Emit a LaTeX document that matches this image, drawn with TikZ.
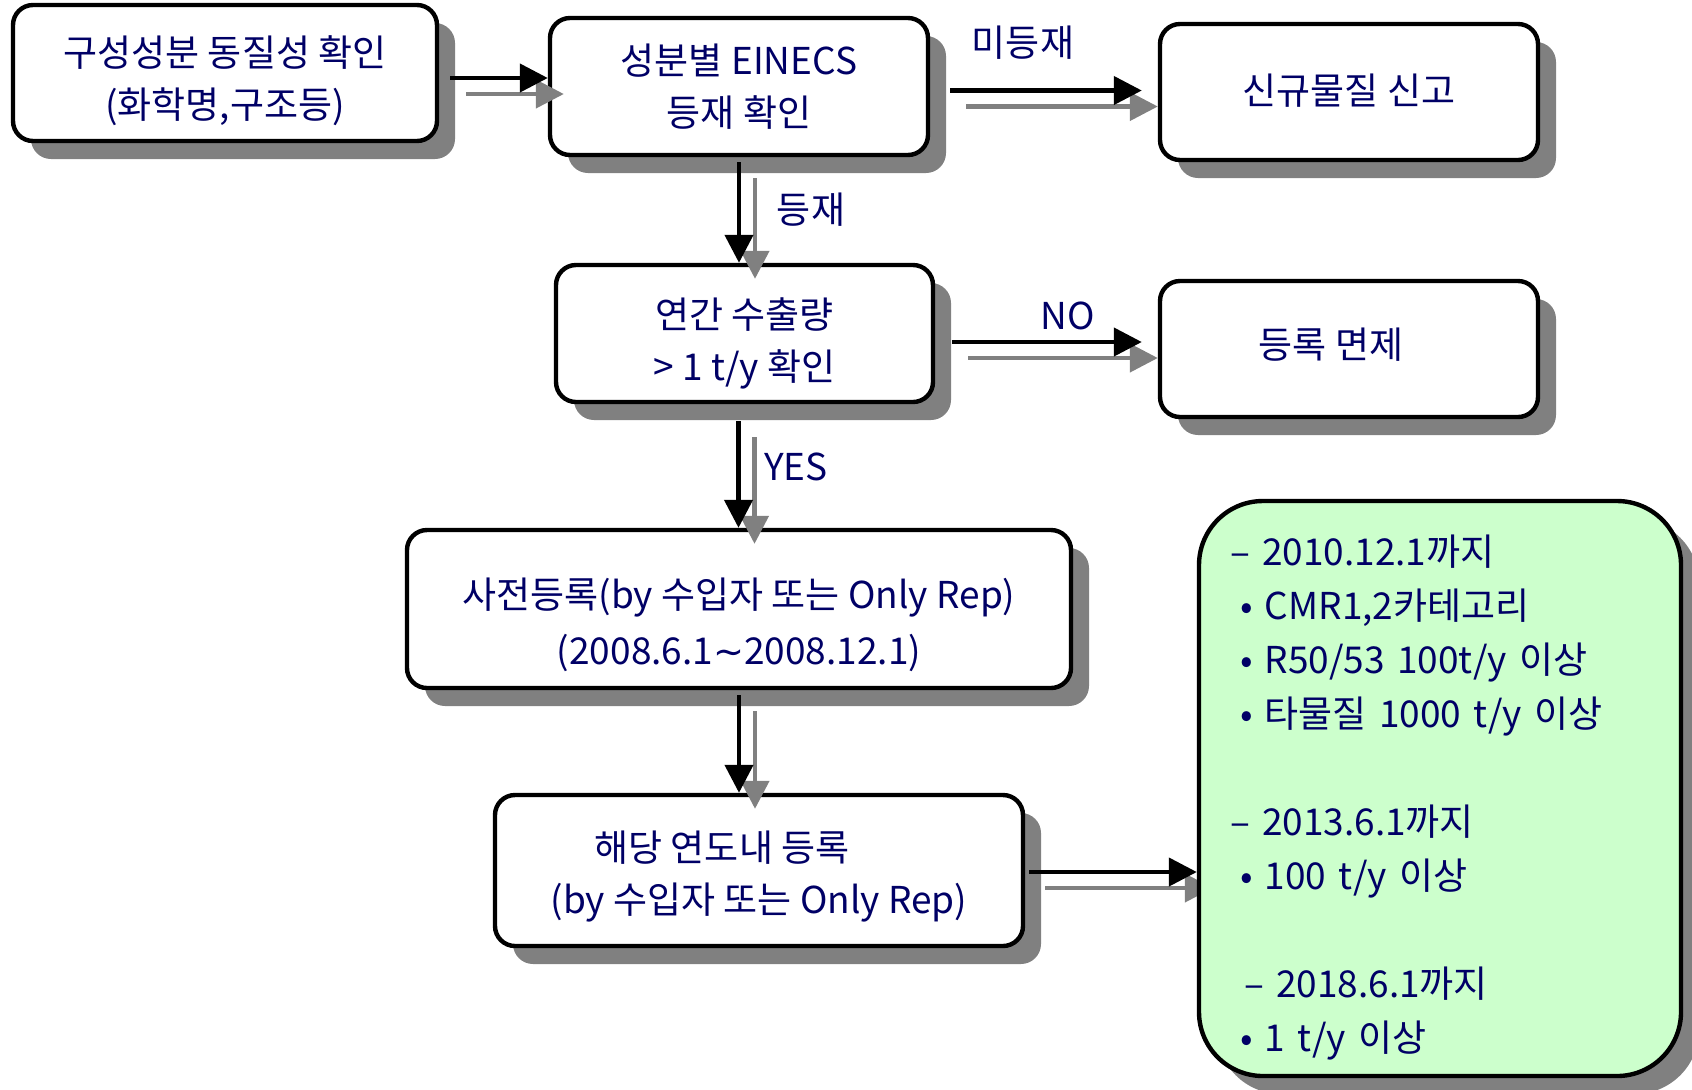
\documentclass[tikz,border=0pt]{standalone}
\usepackage{fontspec}
\setmainfont{Noto Sans CJK KR}
\newfontfamily\tildefont{DejaVu Sans}
\usepackage{xcolor}
\usetikzlibrary{shapes,arrows.meta,positioning,shadows,calc}

\pgfdeclarelayer{front}
\pgfsetlayers{main,front}

\definecolor{navytext}{RGB}{0,0,102}
\definecolor{boxshadow}{RGB}{128,128,128}
\definecolor{notegreen}{RGB}{204,255,204}

\tikzset{
  flowbox/.style={rectangle, rounded corners=10pt, draw, line width=2.2pt, fill=white,
    drop shadow={shadow xshift=9pt, shadow yshift=-9pt, fill=boxshadow, opacity=1}},
  notebox/.style={flowbox, rounded corners=32pt, fill=notegreen},
  boxtext/.style={text=navytext, align=center, font=\fontsize{18.5}{26}\selectfont},
  notetext/.style={boxtext, align=left, text width=210pt, font=\fontsize{18.5}{27}\selectfont},
  flowlabel/.style={text=navytext, font=\fontsize{18.5}{26}\selectfont},
  blackarrow/.style={line width=2.2pt, -{Triangle[length=14pt,width=14pt]}},
  grayarrow/.style={blackarrow, color=boxshadow}
}

% black arrow with its grey shadow copy
\newcommand{\flowarrow}[2]{%
  \draw[grayarrow] ($#1+(16,16)$) -- ($#2+(16,16)$);
  \draw[blackarrow] #1 -- #2;}

\begin{document}
\begin{tikzpicture}[x=0.5pt, y=-0.5pt]
\useasboundingbox (0,0) rectangle (1692,1089);

% boxes
\node[flowbox, minimum width=212pt, minimum height=68pt] (ident) at (225,73) {};
\node[flowbox, minimum width=189pt, minimum height=68.5pt] (einecs) at (739,86.5) {};
\node[flowbox, minimum width=189pt, minimum height=68pt] (newsub) at (1349,92) {};
\node[flowbox, minimum width=188.5pt, minimum height=68.5pt] (tonnage) at (744.5,333.5) {};
\node[flowbox, minimum width=189pt, minimum height=68pt] (exempt) at (1349,349) {};
\node[flowbox, minimum width=332pt, minimum height=79pt] (prereg) at (739,609) {};
\node[flowbox, minimum width=264pt, minimum height=75.5pt] (yearreg) at (759,870.5) {};

% box texts
\node[boxtext] (identtext) at ($(ident)+(0,7.5)$) {구성성분 동질성 확인\\(화학명,구조등)};
\node[boxtext] (einecstext) at (einecs) {성분별 EINECS\\등재 확인};
\node[boxtext] (newsubtext) at ($(newsub)+(0,-1)$) {신규물질 신고};
\node[boxtext] (tonnagetext) at ($(tonnage)+(0,10)$) {연간 수출량\\> 1 t/y 확인};
\node[boxtext] (exempttext) at ($(exempt)+(-18,-4.5)$) {등록 면제};
\node[boxtext, font=\fontsize{18.5}{28}\selectfont] (preregtext) at ($(prereg)+(0,16)$) {사전등록(by 수입자 또는 Only Rep)\\(2008.6.1{\tildefont ∼}2008.12.1)};
\node[boxtext] (yearregtext) at ($(yearreg)+(0,6)$) {해당 연도내 등록\hspace{37pt}\mbox{}\\(by 수입자 또는 Only Rep)};

\begin{pgfonlayer}{front}
\node[notebox, minimum width=241pt, minimum height=287.5pt] (deadline) at (1440,788.5) {};
\node[notetext] (deadlinetext) at ($(deadline)+(0,8.6)$) {%
–\ 2010.12.1까지\\
\hspace{5pt}•\ CMR1,2카테고리\\
\hspace{5pt}•\ R50/53 100t/y 이상\\
\hspace{5pt}•\ 타물질 1000 t/y 이상\\[27pt]
–\ 2013.6.1까지\\
\hspace{5pt}•\ 100 t/y 이상\\[27pt]
\hspace{7pt}–\ 2018.6.1까지\\
\hspace{5pt}•\ 1 t/y 이상};
\end{pgfonlayer}

% arrow end points
\coordinate (a12s) at ($(ident.east)+(11,5)$);
\coordinate (a12e) at (a12s -| einecs.west);
\coordinate (a23s) at ($(einecs.east)+(20,4)$);
\coordinate (a23e) at ($(a23s -| newsub.west)+(-16,0)$);
\coordinate (a24s) at ($(einecs.south)+(0,5)$);
\coordinate (a24e) at (a24s |- tonnage.north);
\coordinate (a45s) at ($(tonnage.east)+(17,8.5)$);
\coordinate (a45e) at ($(a45s -| exempt.west)+(-16,0)$);
\coordinate (a46s) at ($(tonnage.south)+(-6,17)$);
\coordinate (a46e) at (a46s |- prereg.north);
\coordinate (a67s) at ($(prereg.south)+(0,5)$);
\coordinate (a67e) at (a67s |- yearreg.north);
\coordinate (a78s) at ($(yearreg.east)+(4,1.5)$);
\coordinate (a78e) at (a78s -| deadline.west);

% arrows
\flowarrow{(a12s)}{(a12e)}
\flowarrow{(a23s)}{(a23e)}
\flowarrow{(a24s)}{(a24e)}
\flowarrow{(a45s)}{(a45e)}
\flowarrow{(a46s)}{(a46e)}
\flowarrow{(a67s)}{(a67e)}
\flowarrow{(a78s)}{(a78e)}

% labels
\node[flowlabel] (notlisted) at (1023,43) {미등재};
\node[flowlabel] (listed) at (811,210) {등재};
\node[flowlabel] (nolabel) at (1068,316) {NO};
\node[flowlabel] (yeslabel) at (796,467) {YES};
\end{tikzpicture}
\end{document}
